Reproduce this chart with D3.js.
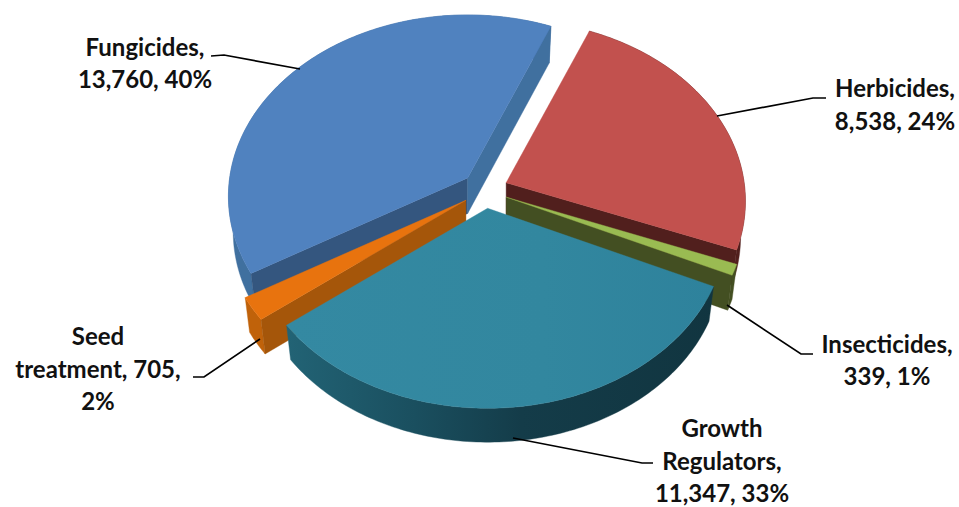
<!DOCTYPE html>
<html><head><meta charset="utf-8">
<script src="https://cdn.jsdelivr.net/npm/d3@7/dist/d3.min.js"></script>
<style>html,body{margin:0;padding:0;background:#fff}svg{display:block}text{font-family:Lato,"Open Sans",sans-serif;font-weight:700;font-size:24px;fill:#111}</style>
</head><body><svg id="c" width="959" height="507"></svg>
<script>
const categories = ["Herbicides","Insecticides","Growth Regulators","Seed treatment","Fungicides"];
const values = [8538,339,11347,705,13760];
const percents = ["24%","1%","33%","2%","40%"];

const topColors  = ["#c2514e","#9abb52","#32879f","#e8730e","#5082bf"];
const wallColors = ["#511f1d","#434f22","#143c49","#c0620a","#40709f"];

const width=959,height=507;
const svg=d3.select("#c");
const rad=d3.scaleLinear().domain([0,360]).range([0,2*Math.PI]);
const pie=d3.pie().sort(null).value(d=>d).startAngle(rad(22.5)).endAngle(rad(382.5));
const arcs=pie(values);

// projection of a tilted disc with mild perspective
const cx=485,cy=190,R=238,Rk=179.6,persp=0.102,explode=23,explodeK=0.8,depth=35.5,baseX=0.98,baseY=0.992;
const radiusFactor=i=>i===3?1.018:1;
function planar(t,r=1){
  const X=r*Math.sin(t),Y=-r*Math.cos(t),s=1/(1-persp*Y);
  return [R*X*s,Rk*Y*s];
}
function apex(a){
  const m=(a.startAngle+a.endAngle)/2;
  return [cx+explode*Math.sin(m),cy-explode*explodeK*Math.cos(m)];
}
const topPt=(a,t)=>{const c=apex(a),p=planar(t,radiusFactor(a.index));return [c[0]+p[0],c[1]+p[1]]};
const botPt=(a,t)=>{const c=apex(a),p=planar(t,radiusFactor(a.index));return [c[0]+p[0]*baseX,c[1]+p[1]*baseY+depth]};
const lineGen=d3.line();
const sweep=(a,f,rev)=>{const n=Math.max(3,Math.ceil((a.endAngle-a.startAngle)/rad(1)));
  const ts=d3.range(n+1).map(i=>a.startAngle+(a.endAngle-a.startAngle)*i/n);
  return (rev?ts.reverse():ts).map(t=>f(a,t));};

const defs=svg.append("defs");
const g=defs.append("linearGradient").attr("id","tealSide").attr("x1",0).attr("x2",1).attr("y1",0).attr("y2",0);
[[0,"#226375"],[0.3,"#1a4f5f"],[0.55,"#143c49"],[1,"#113540"]].forEach(s=>g.append("stop").attr("offset",s[0]).attr("stop-color",s[1]));
const g2=defs.append("linearGradient").attr("id","tealTop").attr("x1",0).attr("x2",1).attr("y1",0).attr("y2",0);
[[0,"#3489a2"],[0.6,"#32879f"],[1,"#2e829c"]].forEach(s=>g2.append("stop").attr("offset",s[0]).attr("stop-color",s[1]));

// painter order: back to front
const order=[4,0,1,3,2];
const startFaceColor={4:"#34567f",3:"#a5560a"};
const endFaceColor={4:"#40709f",0:"#511f1d",1:"#434f22"};
order.forEach(i=>{
  const a=arcs[i],c=apex(a),cb=[c[0],c[1]+depth];
  const G=svg.append("g").attr("class","slice");
  const side=i===2?"url(#tealSide)":wallColors[i];
  // outer wall
  G.append("path").attr("fill",side).attr("stroke",side).attr("stroke-width",.4)
   .attr("d",lineGen(sweep(a,topPt).concat(sweep(a,botPt,true)))+"Z");
  // radial faces
  if(startFaceColor[i]){
    const t=a.startAngle;
    G.append("path").attr("fill",startFaceColor[i]).attr("stroke",startFaceColor[i]).attr("stroke-width",.4)
     .attr("d",lineGen([c,topPt(a,t),botPt(a,t),cb])+"Z");
  }
  if(endFaceColor[i]){
    const t=a.endAngle;
    G.append("path").attr("fill",endFaceColor[i]).attr("stroke",endFaceColor[i]).attr("stroke-width",.4)
     .attr("d",lineGen([c,topPt(a,t),botPt(a,t),cb])+"Z");
  }
  // top
  const top=i===2?"url(#tealTop)":topColors[i];
  G.append("path").attr("fill",top).attr("stroke",top).attr("stroke-width",.4)
   .attr("d",lineGen([c].concat(sweep(a,topPt)))+"Z");
});

// leader lines and labels
const fmt=d3.format(",");
const labelSpec=[
 {i:0,lines:d=>["Herbicides,",d],x:895,y:[97,130],leader:[[826,98],[813,98],[717,116]]},
 {i:1,lines:d=>["Insecticides,",d],x:887,y:[353,385],leader:[[813,354],[801,354],[727,305]]},
 {i:2,lines:d=>["Growth","Regulators,",d],x:722,y:[437,470,502],leader:[[653,463],[642,463],[513,438]]},
 {i:3,lines:null,x:98,y:[345,378,410],leader:[[193,377],[204,377],[260,339]]},
 {i:4,lines:d=>["Fungicides,",d],x:145,y:[56,88],leader:[[211,56],[224,55],[300,69]]}
];
labelSpec.forEach(s=>{
  svg.append("path").attr("fill","none").attr("stroke","#000").attr("stroke-width",1.7)
    .attr("d",lineGen(s.leader));
  const vp=fmt(values[s.i])+", "+percents[s.i];
  const ls=s.lines?s.lines(vp):["Seed","treatment, "+fmt(values[s.i])+",",percents[s.i]];
  ls.forEach((t,k)=>svg.append("text").attr("x",s.x).attr("y",s.y[k]).attr("text-anchor","middle").text(t));
});
</script></body></html>
